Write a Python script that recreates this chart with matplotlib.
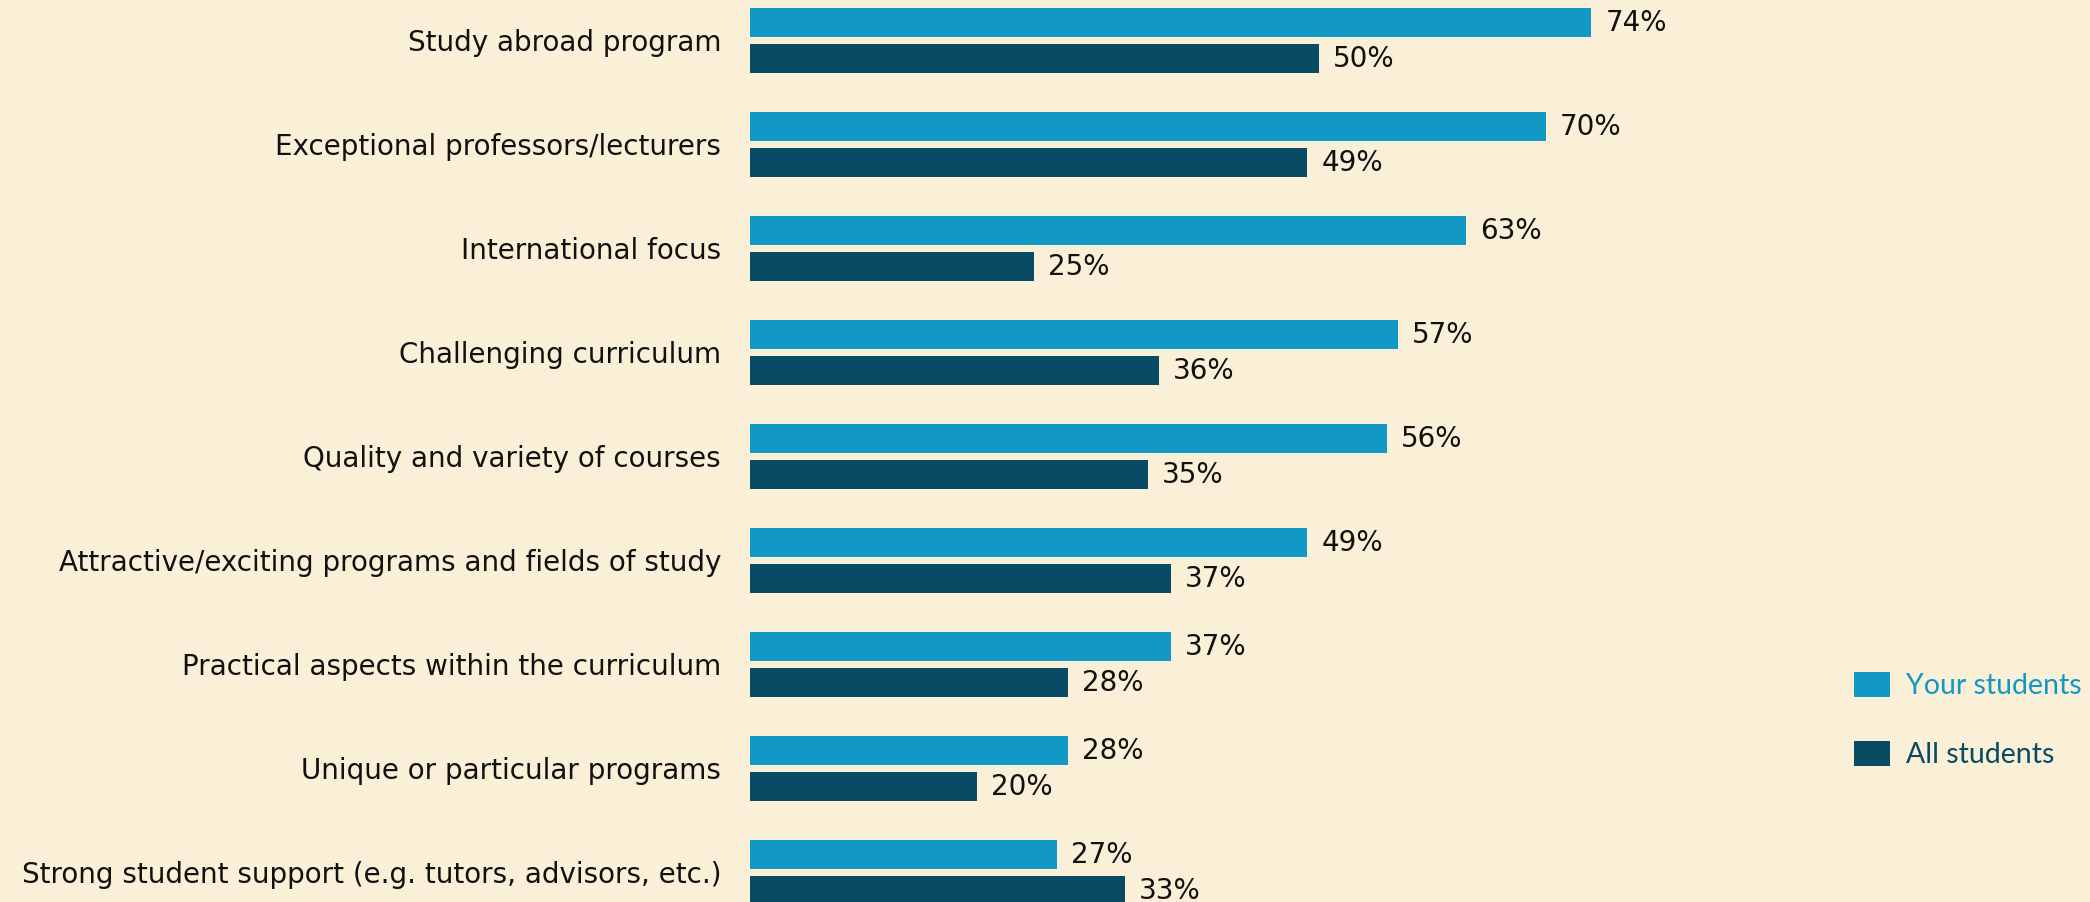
import numpy as np
import matplotlib
matplotlib.use("Agg")
import matplotlib.pyplot as plt
from matplotlib.patches import Patch

categories = [
    "Study abroad program",
    "Exceptional professors/lecturers",
    "International focus",
    "Challenging curriculum",
    "Quality and variety of courses",
    "Attractive/exciting programs and fields of study",
    "Practical aspects within the curriculum",
    "Unique or particular programs",
    "Strong student support (e.g. tutors, advisors, etc.)",
]
your_students = [74, 70, 63, 57, 56, 49, 37, 28, 27]
all_students = [50, 49, 25, 36, 35, 37, 28, 20, 33]
series_names = ["Your students", "All students"]

c_your = "#1198C5"
c_all = "#084B63"
bg = "#FAEFD7"

W, H = 2090, 902
fig = plt.figure(figsize=(W / 100, H / 100), dpi=100, facecolor=bg)

pitch = 104.0
g0 = 40.3
ax_left = 750
px_per_pct = 11.37
xmax = 80
ax = fig.add_axes([ax_left / W, 0, xmax * px_per_pct / W, 1])
ax.set_facecolor(bg)
ax.patch.set_alpha(0)

y = np.arange(len(categories))
bh = 29 / pitch
off = 18 / pitch
b1 = ax.barh(y - off, your_students, height=bh, color=c_your, label=series_names[0])
b2 = ax.barh(y + off, all_students, height=bh, color=c_all, label=series_names[1])

ax.set_xlim(0, xmax)
ax.set_ylim((H - g0) / pitch, -g0 / pitch)

lab_font = dict(family=["DejaVu Sans"], size=20, color="#111111")
for bars in (b1, b2):
    for rect in bars:
        v = rect.get_width()
        ax.annotate(f"{v:g}%", (v, rect.get_y() + rect.get_height() / 2),
                    xytext=(14, -1), textcoords="offset pixels",
                    ha="left", va="center", annotation_clip=False, **lab_font)

ax.set_yticks(y)
ax.set_yticklabels(categories, **lab_font)
ax.tick_params(axis="y", length=0, pad=29 * 0.72)
ax.tick_params(axis="x", bottom=False, labelbottom=False)
for s in ax.spines.values():
    s.set_visible(False)

handles = [Patch(facecolor=c_your), Patch(facecolor=c_all)]
fs = 20.5
leg = fig.legend(handles, series_names, loc="center left",
                 bbox_to_anchor=(1829 / W, 1 - 720 / H),
                 frameon=False, prop=dict(family=["Lato", "DejaVu Sans"], size=fs),
                 borderpad=0.4 * 19 / fs,
                 handlelength=36 / (fs * 100 / 72), handleheight=28 / (fs * 100 / 72),
                 handletextpad=0.58, labelspacing=1.45)
for t, c in zip(leg.get_texts(), [c_your, c_all]):
    t.set_color(c)

fig.savefig("out.png", dpi=100, facecolor=bg)
